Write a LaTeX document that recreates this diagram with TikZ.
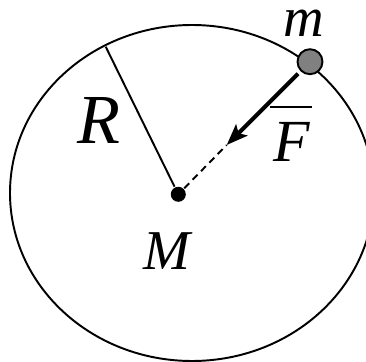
\documentclass[tikz,border=0pt]{standalone}
\usepackage{fontspec}
\setmainfont{Liberation Serif}
\usetikzlibrary{arrows.meta}

\begin{document}
\begin{tikzpicture}[line width=1.1pt,
  lab/.style={font=\fontsize{#1}{#1}\selectfont\itshape, inner sep=0pt},
  ball/.style={circle, draw, fill=gray, minimum size=0.5cm, inner sep=0pt},
  centre/.style={circle, fill=black, minimum size=0.3cm, inner sep=0pt},
  force/.style={line width=2.3pt, -{Stealth[length=12pt,width=9pt,inset=2.5pt]}}]
\clip (-3.566,-3.354) rectangle (3.754,3.886);
\draw (0.274,0.026) ellipse [x radius=3.64, y radius=3.36];
\node[centre] (M) at (0,0) {};
\node[ball] (m) at (2.634,2.652) {};
\coordinate (top) at (-1.452,2.952);
\coordinate (tip) at (0.968,0.986);
\draw (M) -- (top);
\draw[dash pattern=on 4pt off 2.8pt] (M) -- (tip);
\draw[force, shorten <=2pt] (m) -- (tip);
\node[lab=32] (mlab) at (2.514,3.43) {m};
\node[lab=40] (Rlab) at (-1.596,1.486) {R};
\node[lab=34] (Flab) at (2.274,1.046) {F};
\draw (1.834,1.746) -- (2.674,1.746);
\node[lab=32] (Mlab) at (-0.226,-1.144) {M};
\end{tikzpicture}
\end{document}
